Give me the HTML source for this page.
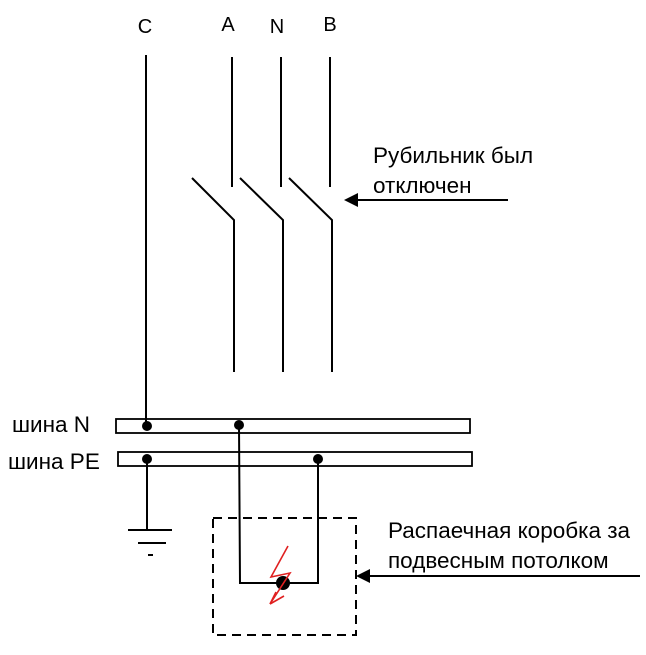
<!DOCTYPE html>
<html><head><meta charset="utf-8"><style>
body{margin:0;background:#fff;width:646px;height:650px;overflow:hidden}
</style></head><body>
<svg width="646" height="650" xmlns="http://www.w3.org/2000/svg" font-family="Liberation Sans, Arial, sans-serif" font-size="22.5" fill="#000">
<g stroke="#000" stroke-width="2" fill="none">
<line x1="146" y1="55" x2="146" y2="426"/>
<line x1="232" y1="57" x2="232" y2="187"/>
<line x1="281" y1="57" x2="281" y2="187"/>
<line x1="330" y1="57" x2="330" y2="187"/>
<polyline points="192,178 234,220 234,372"/>
<polyline points="240,178 283,220 283,372"/>
<polyline points="289,178 332,220 332,372"/>
<rect x="116" y="419" width="354" height="14" stroke-width="1.8"/>
<rect x="118" y="452" width="354" height="14" stroke-width="1.8"/>
<polyline points="239,425 240,583 318,583 318,459"/>
<line x1="147" y1="459" x2="147" y2="530"/>
<line x1="128" y1="530" x2="172" y2="530"/>
<line x1="138" y1="543" x2="166" y2="543"/>
<line x1="148" y1="555" x2="153" y2="555"/>
<rect x="213" y="518" width="143" height="117" stroke-dasharray="9,6"/>
<line x1="508" y1="200" x2="355" y2="200"/>
<line x1="640" y1="576" x2="366" y2="576"/>
</g>
<polygon points="344,200 358,193 358,207"/>
<polygon points="356,576 370,569 370,583"/>
<circle cx="147" cy="426" r="5"/><circle cx="239" cy="425" r="5"/>
<circle cx="147" cy="459" r="5"/><circle cx="318" cy="459" r="5"/>
<circle cx="283" cy="583" r="7"/>
<polyline points="288,546 271,577 290,573 270,604" fill="none" stroke="#e02020" stroke-width="1.6"/>
<path d="M270,604 L276,592 M270,604 L284,596" stroke="#e02020" stroke-width="1.6"/>
<text x="145" y="33" text-anchor="middle" font-size="20">C</text>
<text x="228" y="31" text-anchor="middle" font-size="20">A</text>
<text x="277" y="33" text-anchor="middle" font-size="20">N</text>
<text x="330" y="31" text-anchor="middle" font-size="20">B</text>
<text x="373" y="163">Рубильник был</text>
<text x="373" y="193">отключен</text>
<text x="12" y="432">шина N</text>
<text x="8" y="469">шина PE</text>
<text x="388" y="538">Распаечная коробка за</text>
<text x="388" y="568">подвесным потолком</text>
</svg>
</body></html>
